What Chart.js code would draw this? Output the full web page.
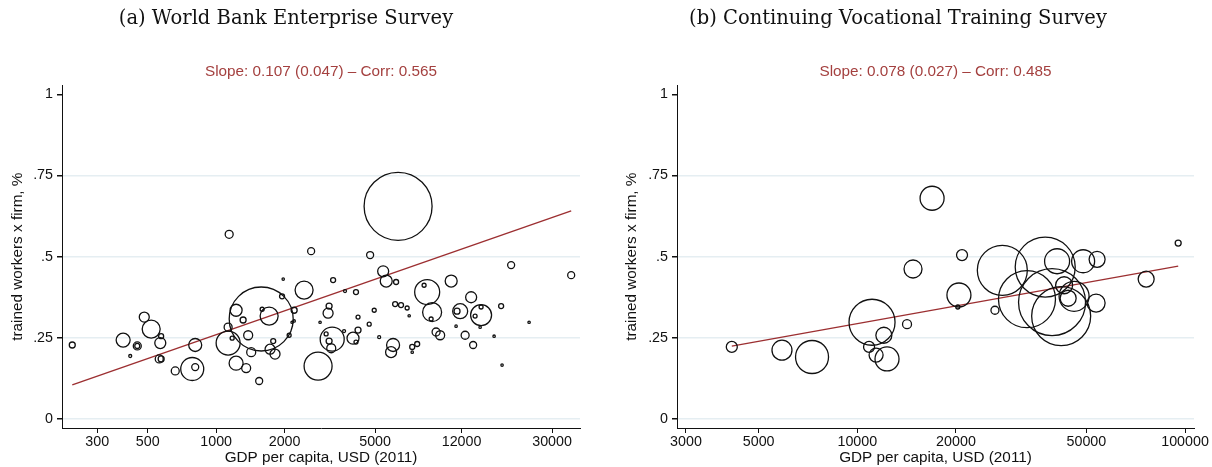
<!DOCTYPE html>
<html>
<head>
<meta charset="utf-8">
<script src="https://cdn.jsdelivr.net/npm/chart.js@4.4.1/dist/chart.umd.min.js"></script>
<style>
  html, body { margin: 0; padding: 0; background: #fff; }
  #wrap { position: relative; width: 1212px; height: 467px; }
  canvas { position: absolute; top: 0; }
  #cA { left: 0; }
  #cB { left: 606px; }
  .heading {
    position: absolute; top: 6px; width: 600px; text-align: center;
    font-family: "DejaVu Serif", "Liberation Serif", serif; font-size: 19.5px;
    line-height: 24px; color: #111;
  }
</style>
</head>
<body>
<div id="wrap">
  <canvas id="cA" width="606" height="467"></canvas>
  <canvas id="cB" width="606" height="467"></canvas>
  <div class="heading" style="left:-14px">(a) World Bank Enterprise Survey</div>
  <div class="heading" style="left:598px">(b) Continuing Vocational Training Survey</div>
</div>
<script>
// (a) World Bank Enterprise Survey: GDP per capita, share of trained workers, bubble weight
const wbGdp = [233, 390, 483, 518, 573, 568, 450, 450, 419, 562, 573, 661, 785, 809, 809,
  1141, 1578, 1224, 1314, 1129, 1129, 1176, 1383, 1224, 1355, 1426, 1546, 1710, 1593, 1949,
  1972, 2203, 2203, 2094, 1782, 1726, 1815, 2436, 3268, 3138, 3106, 2864, 3238, 3045, 3138,
  3207, 2807, 2616, 4754, 5425, 5595, 6184, 3687, 4120, 4955, 4206, 4710, 5210, 3998, 4206,
  4120, 3652, 5998, 5878, 7655, 7280, 7280, 6310, 8210, 8470, 8905, 8815, 10800, 6124, 6500,
  6915, 7060, 9270, 9660, 13220, 11830, 11460, 11350, 14620, 14620, 13760, 14480, 12440, 13490,
  16680, 17910, 18080, 19820, 23770, 36400, 2158];
const wbShare = [.228, .243, .314, .277, .255, .234, .225, .225, .194, .185, .185, .148, .154, .160, .228,
  .569, .308, .335, .305, .283, .234, .249, .258, .172, .157, .206, .117, .317, .338, .378,
  .431, .335, .302, .258, .240, .215, .200, .397, .428, .348, .326, .298, .246, .262, .240,
  .218, .163, .517, .505, .455, .425, .422, .394, .391, .335, .314, .292, .252, .249, .274,
  .237, .271, .228, .206, .231, .222, .206, .655, .412, .391, .329, .308, .425, .354, .351,
  .342, .318, .268, .258, .375, .332, .332, .286, .320, .345, .317, .283, .258, .228,
  .255, .348, .166, .474, .298, .443, .298];
const wbWeight = [3, 7, 5, 9, 2.5, 5.5, 4, 2.5, 1.5, 4, 3, 4, 11.5, 3.5, 6.5,
  4, 32, 6, 3, 4, 12, 2, 4.5, 7, 4.5, 4.5, 3.5, 9, 2, 2.5,
  1.2, 3, 1.2, 2, 2.5, 5, 5, 9, 2.5, 3, 5, 1.2, 12, 2, 3,
  4.5, 14, 3.5, 3.5, 5.5, 6, 2.5, 1.5, 2.5, 2, 2, 2, 1.5, 6, 3,
  2, 1.5, 6.5, 5.5, 2.5, 2.5, 1.2, 34, 2, 12.5, 9.5, 2, 6, 2.5, 2.5,
  2, 1.2, 4, 4.5, 5.5, 7.5, 3, 1.2, 10.5, 2, 2, 1.2, 4, 3.5,
  1.2, 2.5, 1.2, 3.5, 1.2, 3.5, 1.2];
const wbFitX = [233, 36400];
const wbFitY = [0.105, 0.641];

// (b) Continuing Vocational Training Survey
const cvtGdp = [4140, 5890, 7275, 11090, 10860, 11410, 12320, 12050, 14180, 16910, 14790,
  20870, 20420, 20260, 26300, 27700, 37440, 32940, 40700, 39280, 41880, 42760, 43990, 45860,
  48870, 53910, 53540, 76100, 95300];
const cvtShare = [.222, .212, .191, .298, .222, .197, .185, .258, .292, .680, .462,
  .505, .382, .345, .335, .458, .468, .369, .486, .360, .317, .412, .372, .378,
  .486, .492, .357, .431, .542];
const cvtWeight = [5.5, 10, 16.5, 23, 5.5, 7, 12, 8, 4.5, 12, 9,
  5.5, 12, 2, 4, 25, 30, 28.5, 12.5, 33.5, 29.5, 8.5, 8, 15,
  11.5, 8, 9, 8, 3];
const cvtFitX = [4140, 95300];
const cvtFitY = [0.2246, 0.4708];

const wbTicksX = [300, 500, 1000, 2000, 5000, 12000, 30000];
const cvtTicksX = [3000, 5000, 10000, 20000, 50000, 100000];
const shareTicks = [0, 0.25, 0.5, 0.75, 1];

const fitColor = '#9c2f31';
const noteColor = '#a4403f';
const gridColor = '#e5eef2';
const sans = '"Liberation Sans", Arial, sans-serif';

function makePanel(id, gdp, share, weight, fitX, fitY, xTicks, xMin, xMax, yWidth, yTitlePad, padRight, note) {
  const bubbles = gdp.map((g, i) => ({ x: g, y: share[i], r: weight[i] }));
  const fit = fitX.map((g, i) => ({ x: g, y: fitY[i] }));
  return new Chart(document.getElementById(id).getContext('2d'), {
    type: 'bubble',
    data: {
      datasets: [
        {
          data: bubbles,
          backgroundColor: 'rgba(0,0,0,0)',
          borderColor: '#111',
          borderWidth: 1.3,
          hoverBorderWidth: 1.3,
        },
        {
          type: 'line',
          data: fit,
          borderColor: fitColor,
          borderWidth: 1.4,
          pointRadius: 0,
          fill: false,
        },
      ],
    },
    options: {
      responsive: false,
      animation: false,
      events: [],
      layout: { autoPadding: false, padding: { top: 63, right: padRight, bottom: 0, left: 0 } },
      plugins: {
        legend: { display: false },
        tooltip: { enabled: false },
        title: { display: false },
        subtitle: {
          display: true,
          text: note,
          color: noteColor,
          fullSize: false,
          font: { family: sans, size: 15.3, lineHeight: 1.2 },
          padding: { top: 0, bottom: 4 },
        },
      },
      scales: {
        x: {
          type: 'logarithmic',
          min: xMin,
          max: xMax,
          afterBuildTicks: s => { s.ticks = xTicks.map(v => ({ value: v })); },
          afterFit: s => { s.height = 39; s.paddingLeft = 0; s.paddingRight = 0; },
          grid: { drawOnChartArea: false, tickLength: 5, tickColor: '#111' },
          border: { color: '#111', width: 1 },
          ticks: {
            color: '#111', padding: 2, maxRotation: 0, autoSkip: false,
            font: { family: sans, size: 14.3, lineHeight: 1 },
            callback: v => String(v),
          },
          title: {
            display: true, text: 'GDP per capita, USD (2011)', color: '#111',
            font: { family: sans, size: 15.3, lineHeight: 1 },
            padding: { top: 1, bottom: 1.5 },
          },
        },
        y: {
          min: -0.0277,
          max: 1.0277,
          afterBuildTicks: s => { s.ticks = shareTicks.map(v => ({ value: v })); },
          afterFit: s => { s.width = yWidth; s.paddingTop = 0; s.paddingBottom = 0; },
          grid: {
            color: c => (c.tick && c.tick.value === 1 ? 'rgba(0,0,0,0)' : gridColor),
            lineWidth: 1.5,
            tickLength: 5,
            tickColor: '#111',
          },
          border: { color: '#111', width: 1 },
          ticks: {
            color: '#111', padding: 4,
            font: { family: sans, size: 14.3, lineHeight: 1 },
            callback: v => (v === 0 ? '0' : v === 1 ? '1' : String(v).replace('0.', '.')),
          },
          title: {
            display: true, text: 'trained workers x firm, %', color: '#111',
            font: { family: sans, size: 15.3, lineHeight: 1 },
            padding: { top: yTitlePad, bottom: 0 },
          },
        },
      },
    },
  });
}

makePanel('cA', wbGdp, wbShare, wbWeight, wbFitX, wbFitY, wbTicksX, 210, 39800, 62, 10.5, 26,
  'Slope: 0.107 (0.047) \u2013 Corr: 0.565');
makePanel('cB', cvtGdp, cvtShare, cvtWeight, cvtFitX, cvtFitY, cvtTicksX, 2817, 106500, 71, 18.5, 18,
  'Slope: 0.078 (0.027) \u2013 Corr: 0.485');
</script>
</body>
</html>
